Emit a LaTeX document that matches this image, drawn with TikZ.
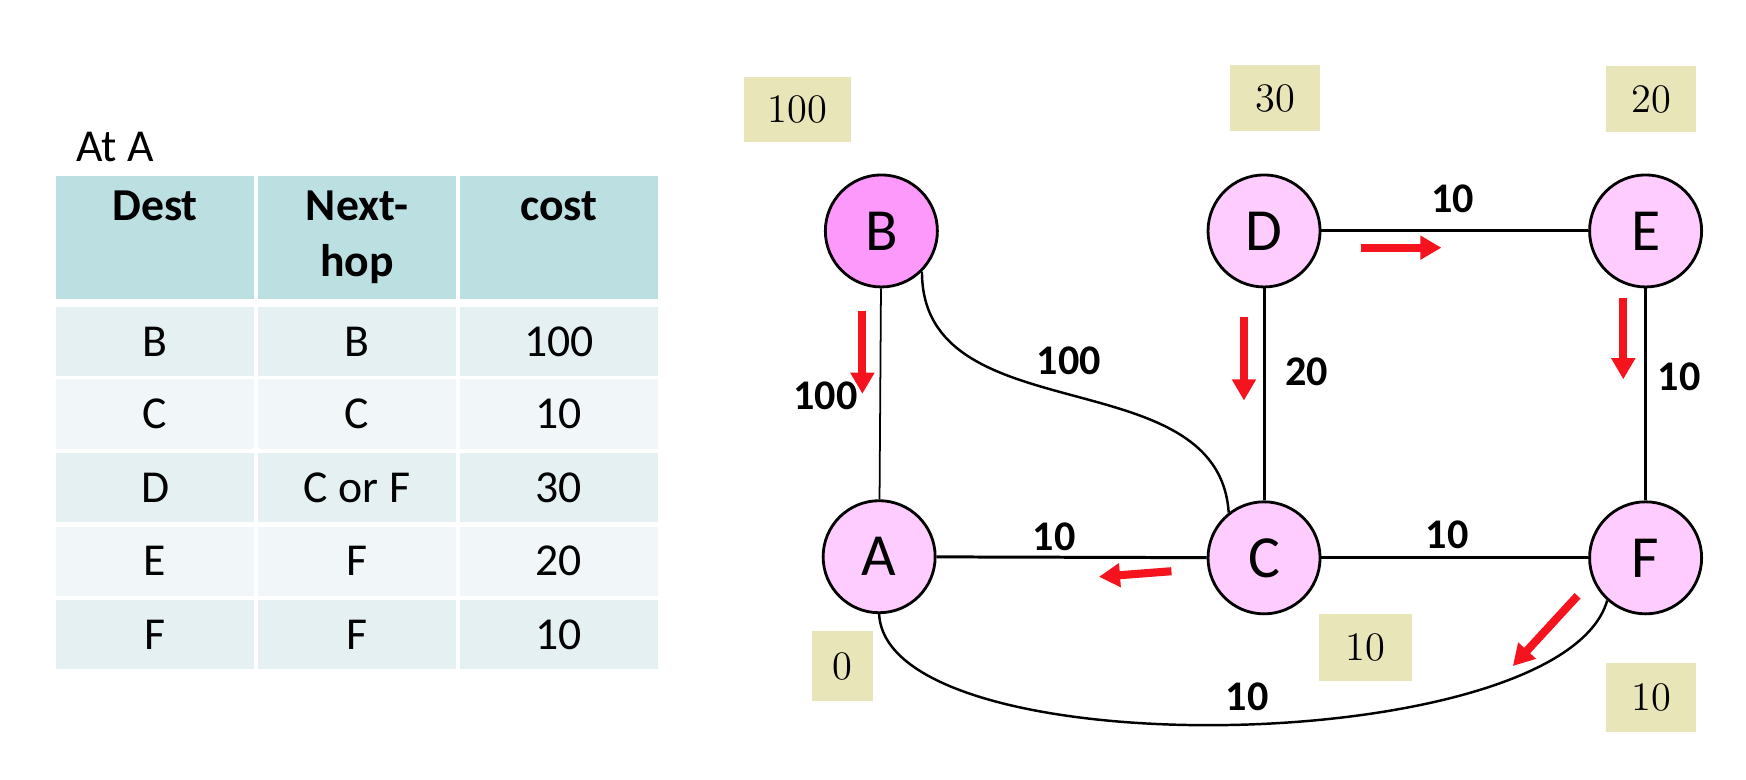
\documentclass[tikz,border=0pt]{standalone}
\usepackage{fontspec}
\usetikzlibrary{arrows.meta}
\newfontfamily\calfont{Carlito}
\definecolor{headfill}{RGB}{188,223,226}
\definecolor{rowdark}{RGB}{228,240,241}
\definecolor{rowlight}{RGB}{241,247,248}
\definecolor{nodepink}{RGB}{255,204,255}
\definecolor{nodemagenta}{RGB}{252,153,250}
\definecolor{costfill}{RGB}{232,229,184}
\definecolor{arrowred}{RGB}{245,20,30}

\begin{document}
\begin{tikzpicture}[x=0.011157cm, y=-0.011157cm,
		headcell/.style={fill=headfill, minimum width=1.986cm, minimum height=1.227cm,
			inner sep=0pt, align=center, font=\calfont\bfseries\fontsize{13}{16}\selectfont},
		rowcell/.style={minimum width=1.986cm, minimum height=0.692cm,
			inner sep=0pt, font=\calfont\fontsize{13}{15}\selectfont},
		router/.style={circle, draw, line width=0.8pt, fill=nodepink, minimum size=1.12cm,
			inner sep=0pt, font=\calfont\fontsize{17}{19}\selectfont},
		link/.style={line width=0.85pt},
		weight/.style={font=\calfont\bfseries\fontsize{12}{14}\selectfont},
		cost/.style={fill=costfill, inner sep=0pt, font=\fontsize{11.5}{13}\selectfont},
		update/.style={draw=arrowred, line width=2.3pt, -{Triangle[width=6.5pt, length=6pt]}}]
	\useasboundingbox (0, 0) rectangle (1565, 699);

	\path (68, 145) node (title)
		[anchor=base west, inner sep=0pt, font=\calfont\fontsize{13}{15}\selectfont] {At A};

	\path (139, 213) node (hDest) [headcell] {Dest\\\phantom{hop}};
	\path (320, 213) node (hNext) [headcell] {Next-\\hop};
	\path (501, 213) node (hCost) [headcell] {cost\\\phantom{hop}};

	\path (139, 306) node (dB) [rowcell, fill=rowdark] {B};
	\path (320, 306) node (nB) [rowcell, fill=rowdark] {B};
	\path (501, 306) node (cB) [rowcell, fill=rowdark] {100};
	\path (139, 371) node (dC) [rowcell, fill=rowlight] {C};
	\path (320, 371) node (nC) [rowcell, fill=rowlight] {C};
	\path (501, 371) node (cC) [rowcell, fill=rowlight] {10};
	\path (139, 437) node (dD) [rowcell, fill=rowdark] {D};
	\path (320, 437) node (nD) [rowcell, fill=rowdark] {C or F};
	\path (501, 437) node (cD) [rowcell, fill=rowdark] {30};
	\path (139, 503) node (dE) [rowcell, fill=rowlight] {E};
	\path (320, 503) node (nE) [rowcell, fill=rowlight] {F};
	\path (501, 503) node (cE) [rowcell, fill=rowlight] {20};
	\path (139, 569) node (dF) [rowcell, fill=rowdark] {F};
	\path (320, 569) node (nF) [rowcell, fill=rowdark] {F};
	\path (501, 569) node (cF) [rowcell, fill=rowdark] {10};

	\path (790, 207) node (B) [router, fill=nodemagenta] {B};
	\path (1133, 207) node (D) [router] {D};
	\path (1475, 207) node (E) [router] {E};
	\path (788, 499) node (A) [router] {A};
	\path (1133, 500) node (C) [router] {C};
	\path (1475, 500) node (F) [router] {F};

	\path (715, 98) node (costB) [cost, minimum width=1.071cm, minimum height=0.647cm] {100};
	\path (1143, 88) node (costD) [cost, minimum width=0.904cm, minimum height=0.658cm] {30};
	\path (1480, 89) node (costE) [cost, minimum width=0.904cm, minimum height=0.658cm] {20};
	\path (755, 597) node (costA) [cost, minimum width=0.614cm, minimum height=0.692cm] {0};
	\path (1224, 580) node (costC) [cost, minimum width=0.926cm, minimum height=0.669cm] {10};
	\path (1480, 625) node (costF) [cost, minimum width=0.904cm, minimum height=0.692cm] {10};

	\draw[link, line width=0.5pt] (B) -- (A);
	\draw[link] (D) -- (E);
	\draw[link] (D) -- (C);
	\draw[link] (E) -- (F);
	\draw[link] (A) -- (C);
	\draw[link] (C) -- (F);
	\draw[link, line width=0.7pt] (B.-45) .. controls (826, 390) and (1092, 320) .. (C.128);
	\draw[link, line width=0.7pt] (A.south) .. controls (795, 690) and (1400, 680) .. (F.228);

	\path (740, 355) node (wBA) [weight] {100};
	\path (958, 323) node (wBC) [weight] {100};
	\path (1302, 178) node (wDE) [weight] {10};
	\path (1171, 333) node (wDC) [weight] {20};
	\path (1505, 338) node (wEF) [weight] {10};
	\path (945, 481) node (wAC) [weight] {10};
	\path (1297, 479) node (wCF) [weight] {10};
	\path (1118, 625) node (wAF) [weight] {10};

	\draw[update] (773, 279) -- (773, 353);
	\draw[update] (1115, 284) -- (1115, 359);
	\draw[update] (1455, 267) -- (1455, 340);
	\draw[update] (1220, 222) -- (1292, 222);
	\draw[update] (1050, 512) -- (985, 517);
	\draw[update] (1414, 534) -- (1356, 597);
\end{tikzpicture}
\end{document}
